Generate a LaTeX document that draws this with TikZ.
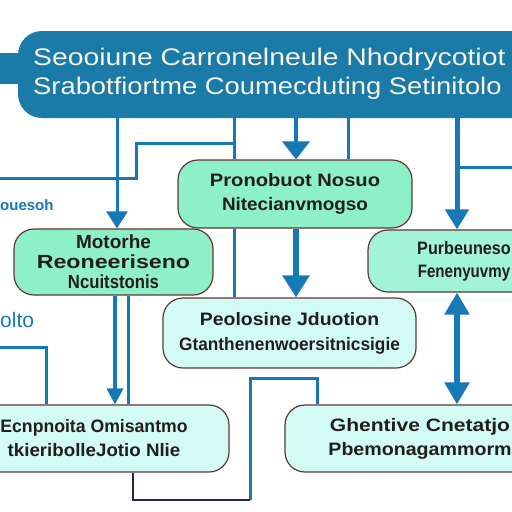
\documentclass[tikz,border=0pt]{standalone}
\usepackage{fontspec}
\setmainfont{Liberation Sans}
\usetikzlibrary{arrows.meta}
\definecolor{ban}{RGB}{26,122,168}
\definecolor{ln}{RGB}{22,120,180}
\definecolor{navy}{RGB}{30,40,80}
\definecolor{edge}{RGB}{95,55,55}
\definecolor{gA}{RGB}{142,240,198}
\definecolor{gB}{RGB}{162,244,216}
\definecolor{cA}{RGB}{210,251,245}
\definecolor{txt}{RGB}{35,30,30}
\definecolor{cream}{RGB}{248,243,228}
\newcommand{\sx}[2]{\scalebox{#1}[1]{#2}}
\begin{document}
\begin{tikzpicture}[x=1pt,y=-1pt,
  box/.style={draw=edge,line width=1.2pt,rounded corners=20pt,align=center,inner sep=0pt,
    font=\bfseries\fontsize{18}{23}\selectfont,text=txt},
  wire/.style={draw=ln,line width=3pt},
  arr/.style={wire,-{Triangle[width=21pt,length=17pt]}},
  big/.style={draw=ln,line width=6pt,-{Triangle[width=26pt,length=22pt]}},
  dbl/.style={draw=ln,line width=6pt,{Triangle[width=24pt,length=22pt]}-{Triangle[width=24pt,length=22pt]}},
  btxt/.style={anchor=west,text=cream,font=\fontsize{24}{28}\selectfont,inner sep=0pt},
  side/.style={anchor=west,text=ln,inner sep=0pt}]
\useasboundingbox (0,0) rectangle (512,512);
\clip (0,0) rectangle (512,512);
\fill[white] (0,0) rectangle (512,512);

% banner
\node[fill=ban,rounded corners=24pt,minimum width=540pt,minimum height=87pt,inner sep=0pt] (ban) at (288,74.5) {};
\node[fill=ban,minimum width=26pt,minimum height=31pt,inner sep=0pt] (tab) at (8,68.5) {};
\node[btxt] (t1) at (33,59) {\sx{1.18}{Seooiune Carronelneule Nhodrycotiot}};
\node[btxt] (t2) at (33,88) {\sx{1.14}{Srabotfiortme Coumecduting Setinitolo}};

% coordinates for connector columns
\coordinate (c46) at (46,0);
\coordinate (c115) at (115,0);
\coordinate (c117) at (117,0);
\coordinate (c128) at (128,0);
\coordinate (c133) at (133,0);
\coordinate (c234) at (234,0);
\coordinate (c250) at (250,0);
\coordinate (c296) at (296,0);
\coordinate (c317) at (317,0);
\coordinate (c348) at (348,0);
\coordinate (c457) at (457,0);

% boxes
\node[box,fill=gA,minimum width=234pt,minimum height=68pt] (P) at (295,194)
  {\sx{1.12}{Pronobuot Nosuo}\\[1pt]\sx{1.05}{Nitecianvmogso}};
\node[box,fill=gA,minimum width=199pt,minimum height=66pt,font=\bfseries\fontsize{19}{20}\selectfont] (M) at (113.5,262)
  {Motorhe\\\sx{1.22}{Reoneeriseno}\\\sx{0.88}{Ncuitstonis}};
\node[box,fill=gB,minimum width=192pt,minimum height=62pt] (R) at (464,261)
  {\sx{0.9}{Purbeuneso}\\\sx{0.84}{Fenenyuvmy}};
\node[box,fill=cA,minimum width=253pt,minimum height=70pt] (Q) at (289.5,333)
  {\sx{1.08}{Peolosine Jduotion}\\[2pt]\sx{0.96}{Gtanthenenwoersitnicsigie}};
\node[box,fill=cA,minimum width=270pt,minimum height=67pt] (L) at (94,438.5)
  {\sx{0.98}{Ecnpnoita Omisantmo}\\[1pt]\sx{1.04}{tkieribolleJotio Nlie}};
\node[box,fill=cA,minimum width=270pt,minimum height=67pt] (D) at (420,438.5)
  {\sx{1.17}{Ghentive Cnetatjo}\\[1pt]\sx{1.09}{Pbemonagammorm}};

% side labels
\node[side,font=\bfseries\fontsize{15}{18}\selectfont] (s1) at (0,205) {ouesoh};
\node[side,font=\fontsize{21}{24}\selectfont] (s2) at (0,320) {olto};

% connectors from banner
\draw[arr] (ban.south -| c117) -- (M.north -| c117);
\draw[wire] (ban.south -| c234) -- (P.north -| c234);
\coordinate (j1) at (234,143);
\coordinate (j2) at (136,143);
\coordinate (e1) at (0,178);
\draw[wire] (j1) -- (j2) |- (e1);
\draw[arr,line width=4pt,-{Triangle[width=27pt,length=18pt]}] (ban.south -| c296) -- (P.north -| c296);
\draw[wire] (ban.south -| c348) -- (P.north -| c348);
\draw[arr,line width=5pt,-{Triangle[width=23pt,length=20pt]}] (ban.south -| c457) -- (R.north -| c457);
\coordinate (j3) at (457,167);
\coordinate (e2) at (512,167);
\draw[wire] (j3) -- (e2);

% middle connectors
\draw[wire] (P.south -| c234) -- (Q.north -| c234);
\draw[big] (P.south -| c296) -- (Q.north -| c296);
\draw[dbl] (R.south -| c457) -- (D.north -| c457);
\draw[arr,line width=3.5pt,-{Triangle[width=16pt,length=16pt]}] (M.south -| c115) -- (L.north -| c115);
\draw[wire] (M.south -| c128) -- (L.north -| c128);
\coordinate (e3) at (0,347);
\draw[wire] (e3) -| (L.north -| c46);

% bracket
\coordinate (j5) at (317,378);
\coordinate (j6) at (250,500);
\draw[wire] (D.north -| c317) -- (j5) -| (j6);
\draw[draw=navy,line width=2.5pt] (j6) -| (L.south -| c133);
\end{tikzpicture}
\end{document}
